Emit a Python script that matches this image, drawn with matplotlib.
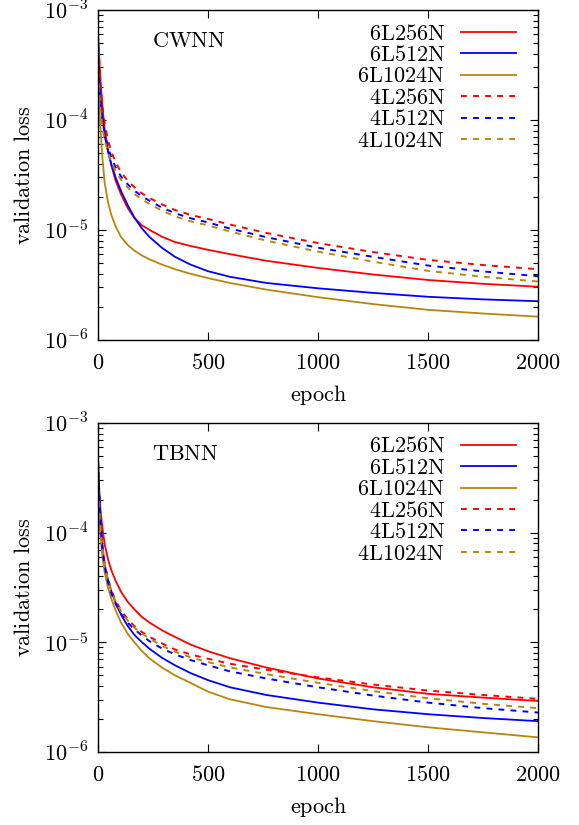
import numpy as np
import matplotlib
matplotlib.use("Agg")
import matplotlib.pyplot as plt
from matplotlib.ticker import FuncFormatter, LogLocator, FixedLocator, NullFormatter

plt.rcParams['mathtext.fontset'] = 'cm'
plt.rcParams['font.family'] = ['DejaVu Serif']

epoch = [0, 10, 20, 30, 45, 60, 80, 105, 135, 165, 200, 235, 290, 350, 420,
         500, 600, 765, 1000, 1250, 1500, 1750, 2000]

labels = ["6L256N", "6L512N", "6L1024N", "4L256N", "4L512N", "4L1024N"]

# CWNN
cw_6l256 = [6e-4, 2.5e-4, 1.32e-4, 8.3e-5, 5.4e-5, 3.9e-5, 2.8e-5, 2.1e-5, 1.58e-5, 1.29e-5, 1.1e-5, 1.0e-5,
            8.7e-6, 7.76e-6, 7.16e-6, 6.6e-6, 6.03e-6, 5.25e-6, 4.52e-6, 3.94e-6, 3.51e-6, 3.24e-6, 3.05e-6]
cw_6l512 = [3.7e-4, 1.7e-4, 1.05e-4, 7.2e-5, 5.2e-5, 4.0e-5, 3.0e-5, 2.25e-5, 1.68e-5, 1.3e-5, 1.03e-5, 8.6e-6,
            6.9e-6, 5.7e-6, 4.85e-6, 4.22e-6, 3.75e-6, 3.3e-6, 2.95e-6, 2.68e-6, 2.47e-6, 2.34e-6, 2.25e-6]
cw_6l1024 = [2.7e-4, 9e-5, 4.5e-5, 2.7e-5, 1.8e-5, 1.38e-5, 1.08e-5, 8.6e-6, 7.3e-6, 6.5e-6, 5.85e-6, 5.4e-6,
             4.85e-6, 4.4e-6, 4.0e-6, 3.65e-6, 3.3e-6, 2.87e-6, 2.45e-6, 2.12e-6, 1.88e-6, 1.74e-6, 1.63e-6]
cw_4l256 = [6e-4, 2.2e-4, 1.3e-4, 9.3e-5, 6.6e-5, 5.2e-5, 4.1e-5, 3.35e-5, 2.8e-5, 2.45e-5, 2.15e-5, 1.95e-5,
            1.71e-5, 1.52e-5, 1.37e-5, 1.26e-5, 1.12e-5, 9.4e-6, 7.6e-6, 6.3e-6, 5.35e-6, 4.8e-6, 4.4e-6]
cw_4l512 = [3.8e-4, 1.6e-4, 1.0e-4, 7.6e-5, 5.7e-5, 4.6e-5, 3.7e-5, 3.05e-5, 2.6e-5, 2.28e-5, 2.02e-5, 1.84e-5,
            1.6e-5, 1.42e-5, 1.28e-5, 1.17e-5, 1.03e-5, 8.6e-6, 6.9e-6, 5.7e-6, 4.75e-6, 4.2e-6, 3.8e-6]
cw_4l1024 = [2.8e-4, 1.3e-4, 8.5e-5, 6.6e-5, 5.1e-5, 4.2e-5, 3.4e-5, 2.85e-5, 2.43e-5, 2.13e-5, 1.89e-5, 1.72e-5,
             1.5e-5, 1.33e-5, 1.2e-5, 1.1e-5, 9.7e-6, 8.0e-6, 6.35e-6, 5.15e-6, 4.25e-6, 3.75e-6, 3.4e-6]

# TBNN
tb_6l256 = [3.3e-4, 1.7e-4, 1.1e-4, 7.9e-5, 5.75e-5, 4.57e-5, 3.63e-5, 2.88e-5, 2.34e-5, 2.0e-5, 1.7e-5, 1.51e-5,
            1.29e-5, 1.12e-5, 9.55e-6, 8.3e-6, 7.16e-6, 5.89e-6, 4.68e-6, 3.89e-6, 3.39e-6, 3.13e-6, 2.92e-6]
tb_6l512 = [4.8e-4, 1.41e-4, 7.6e-5, 5.13e-5, 3.72e-5, 2.95e-5, 2.29e-5, 1.78e-5, 1.41e-5, 1.17e-5, 1.0e-5, 8.7e-6,
            7.24e-6, 6.17e-6, 5.25e-6, 4.52e-6, 3.89e-6, 3.31e-6, 2.82e-6, 2.45e-6, 2.21e-6, 2.04e-6, 1.91e-6]
tb_6l1024 = [2.1e-4, 1.0e-4, 6.0e-5, 4.37e-5, 3.16e-5, 2.51e-5, 1.95e-5, 1.51e-5, 1.2e-5, 1.0e-5, 8.3e-6, 7.1e-6,
             5.9e-6, 5.0e-6, 4.27e-6, 3.55e-6, 3.02e-6, 2.57e-6, 2.21e-6, 1.91e-6, 1.68e-6, 1.51e-6, 1.36e-6]
tb_4l256 = [2.7e-4, 1.3e-4, 7.5e-5, 5.25e-5, 3.8e-5, 3.02e-5, 2.4e-5, 1.95e-5, 1.62e-5, 1.41e-5, 1.24e-5, 1.12e-5,
            9.8e-6, 8.6e-6, 7.76e-6, 7.08e-6, 6.38e-6, 5.62e-6, 4.79e-6, 4.12e-6, 3.63e-6, 3.31e-6, 3.05e-6]
tb_4l512 = [4.6e-4, 1.4e-4, 7e-5, 4.9e-5, 3.55e-5, 2.82e-5, 2.24e-5, 1.82e-5, 1.51e-5, 1.32e-5, 1.15e-5, 1.02e-5,
            8.8e-6, 7.76e-6, 6.9e-6, 6.17e-6, 5.43e-6, 4.68e-6, 3.89e-6, 3.27e-6, 2.82e-6, 2.51e-6, 2.29e-6]
tb_4l1024 = [2.5e-4, 1.2e-4, 7.2e-5, 5.0e-5, 3.72e-5, 2.95e-5, 2.34e-5, 1.91e-5, 1.58e-5, 1.36e-5, 1.2e-5, 1.08e-5,
             9.3e-6, 8.2e-6, 7.3e-6, 6.6e-6, 5.9e-6, 5.13e-6, 4.27e-6, 3.59e-6, 3.09e-6, 2.75e-6, 2.51e-6]

colors = ['#ff0000', '#0000ff', '#b8860b', '#ff0000', '#0000ff', '#b8860b']
fs = 16

fig = plt.figure(figsize=(5.79, 8.25), dpi=100)
ax1 = fig.add_axes([0.1693, 0.5879, 0.760, 0.400])
ax2 = fig.add_axes([0.1693, 0.0885, 0.760, 0.3988])

panels = [(ax1, "CWNN", [cw_6l256, cw_6l512, cw_6l1024, cw_4l256, cw_4l512, cw_4l1024]),
          (ax2, "TBNN", [tb_6l256, tb_6l512, tb_6l1024, tb_4l256, tb_4l512, tb_4l1024])]

for ax, name, series in panels:
    for i, s in enumerate(series):
        if i < 3:
            ax.plot(epoch, s, color=colors[i], lw=1.3, label=r'$\mathrm{%s}$' % labels[i])
        else:
            ax.plot(epoch, s, color=colors[i], lw=1.4, dashes=(3, 3.2), label=r'$\mathrm{%s}$' % labels[i])
    ax.set_yscale('log')
    ax.set_xlim(0, 2000)
    ax.set_ylim(1e-6, 1e-3)
    ax.xaxis.set_major_locator(FixedLocator([0, 500, 1000, 1500, 2000]))
    ax.xaxis.set_major_formatter(FuncFormatter(lambda v, p: r'$%d$' % v))
    ax.yaxis.set_major_locator(LogLocator(base=10, numticks=10))
    ax.yaxis.set_minor_locator(LogLocator(base=10, subs=np.arange(2, 10), numticks=20))
    ax.yaxis.set_minor_formatter(NullFormatter())
    ax.yaxis.set_major_formatter(FuncFormatter(lambda v, p: r'$10^{%d}$' % round(np.log10(v))))
    ax.tick_params(which='both', direction='in', top=True, right=True, labelsize=fs, width=0.8)
    ax.tick_params(which='major', length=6)
    ax.tick_params(which='minor', length=3.5)
    ax.tick_params(axis='x', pad=9)
    ax.tick_params(axis='y', pad=7)
    for sp in ax.spines.values():
        sp.set_linewidth(1.0)
    ax.set_xlabel(r'$\mathrm{epoch}$', fontsize=fs, labelpad=6)
    ax.set_ylabel(r'$\mathrm{validation\ loss}$', fontsize=fs, labelpad=6)
    ax.text(0.123, 0.905, r'$\mathrm{%s}$' % name, transform=ax.transAxes, fontsize=fs,
            ha='left', va='center')
    ax.legend(loc='upper right', bbox_to_anchor=(0.95, 0.962), frameon=False, fontsize=fs,
              markerfirst=False, handlelength=2.5, handletextpad=0.7, labelspacing=-0.025,
              borderpad=0, borderaxespad=0)

fig.savefig("out.png", dpi=100)
